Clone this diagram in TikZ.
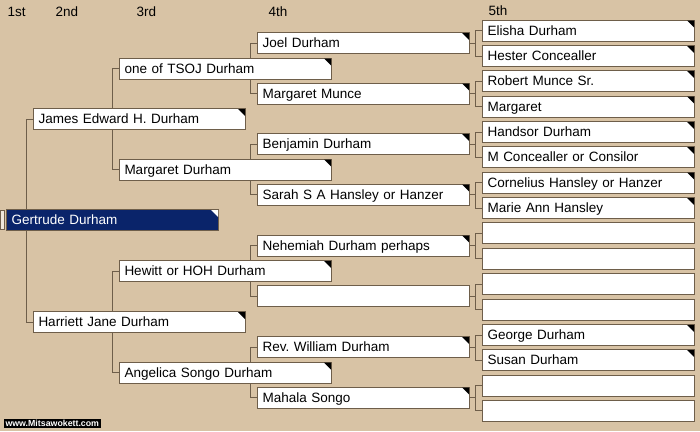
\documentclass[tikz,border=0pt]{standalone}
\usepackage{fontspec}
\setmainfont{Liberation Sans}
\pgfdeclarelayer{back}
\pgfsetlayers{back,main}
\definecolor{tan}{HTML}{D8C3A5}
\definecolor{navy}{HTML}{0A246A}
\definecolor{rule}{HTML}{6E5E4A}
\begin{document}
\begin{tikzpicture}[x=1pt,y=-1pt,line width=1pt]
  \tikzstyle{person}=[draw=rule,fill=white,anchor=west,inner xsep=5pt,inner ysep=0pt,text width=202pt,text height=11pt,text depth=2pt,minimum height=21pt,align=left,font=\fontsize{13.5}{15}\selectfont]
  \tikzstyle{root}=[person,fill=navy,text=white]
  \tikzstyle{head}=[anchor=west,inner sep=0pt,font=\fontsize{13.5}{15}\selectfont]
  \tikzstyle{link}=[draw=rule,line width=1pt]
  \def\xa{6}	% left of 1st column
  \def\xb{33}	% left of 2nd column
  \def\xc{119}	% left of 3rd column
  \def\xd{257}	% left of 4th column
  \def\xe{482}	% left of 5th column
  \def\flag#1#2{\fill[#2] ([xshift=-1pt,yshift=-1pt]#1.north east) -- ++(-7,0) -- ++(7,7) -- cycle;}
  \useasboundingbox (0,0) rectangle (700,431);
  % column heads
  \node[head] (h1) at (7,12) {1st};
  \node[head] (h2) at (55,12) {2nd};
  \node[head] (h3) at (136,12) {3rd};
  \node[head] (h4) at (268,12) {4th};
  \node[head] (h5) at (488,11) {5th};
  % 1st and 2nd
  \node[draw=rule,fill=tan!40!white,anchor=west,minimum width=4pt,minimum height=19pt,inner sep=0pt] (tab) at (0,220) {};
  \node[root] (n1) at (\xa,220) {Gertrude Durham};
  \node[person] (n2) at (\xb,119) {James Edward H. Durham};
  \node[person] (n3) at (\xb,322) {Harriett Jane Durham};
  % 3rd
  \node[person] (n4) at (\xc,68.5) {one of TSOJ Durham};
  \node[person] (n5) at (\xc,169.5) {Margaret Durham};
  \node[person] (n6) at (\xc,271) {Hewitt or HOH Durham};
  \node[person] (n7) at (\xc,372.5) {Angelica Songo Durham};
  % 4th
  \node[person] (n8) at (\xd,43) {Joel Durham};
  \node[person] (n9) at (\xd,93.5) {Margaret Munce};
  \node[person] (n10) at (\xd,144) {Benjamin Durham};
  \node[person] (n11) at (\xd,194.5) {Sarah S A Hansley or Hanzer};
  \node[person] (n12) at (\xd,245.5) {Nehemiah Durham perhaps};
  \node[person] (n13) at (\xd,296) {};
  \node[person] (n14) at (\xd,347) {Rev.\ William Durham};
  \node[person] (n15) at (\xd,397.5) {Mahala Songo};
  % 5th
  \node[person] (n16) at (\xe,30.5) {Elisha Durham};
  \node[person] (n17) at (\xe,56) {Hester Concealler};
  \node[person] (n18) at (\xe,81) {Robert Munce Sr.};
  \node[person] (n19) at (\xe,106.5) {Margaret};
  \node[person] (n20) at (\xe,132) {Handsor Durham};
  \node[person] (n21) at (\xe,157) {M Concealler or Consilor};
  \node[person] (n22) at (\xe,182.5) {Cornelius Hansley or Hanzer};
  \node[person] (n23) at (\xe,208) {Marie Ann Hansley};
  \node[person] (n24) at (\xe,233) {};
  \node[person] (n25) at (\xe,258.5) {};
  \node[person] (n26) at (\xe,284) {};
  \node[person] (n27) at (\xe,309.5) {};
  \node[person] (n28) at (\xe,335) {George Durham};
  \node[person] (n29) at (\xe,360) {Susan Durham};
  \node[person] (n30) at (\xe,385.5) {};
  \node[person] (n31) at (\xe,410.5) {};
  % corner marks
  \flag{n1}{white}
  \foreach \k in {2,...,12,14,15,16,...,23,28,29} {\flag{n\k}{black}}
  % site tag
  \node[anchor=west,fill=black,text=white,inner xsep=2pt,inner ysep=1.5pt,font=\fontsize{8.8}{9}\selectfont\bfseries] (site) at (3,423.5) {www.Mitsawokett.com};
  % background and brackets
  \begin{pgfonlayer}{back}
    \fill[tan] (0,0) rectangle (700,431);
    \foreach \k in {1,...,15} {
      \pgfmathtruncatemacro\ca{2*\k}
      \pgfmathtruncatemacro\cb{2*\k+1}
      \draw[link] (n\k.center) -| ([xshift=-7pt]n\ca.west) -- (n\ca.west);
      \draw[link] (n\k.center) -| ([xshift=-7pt]n\cb.west) -- (n\cb.west);
    }
  \end{pgfonlayer}
\end{tikzpicture}
\end{document}
